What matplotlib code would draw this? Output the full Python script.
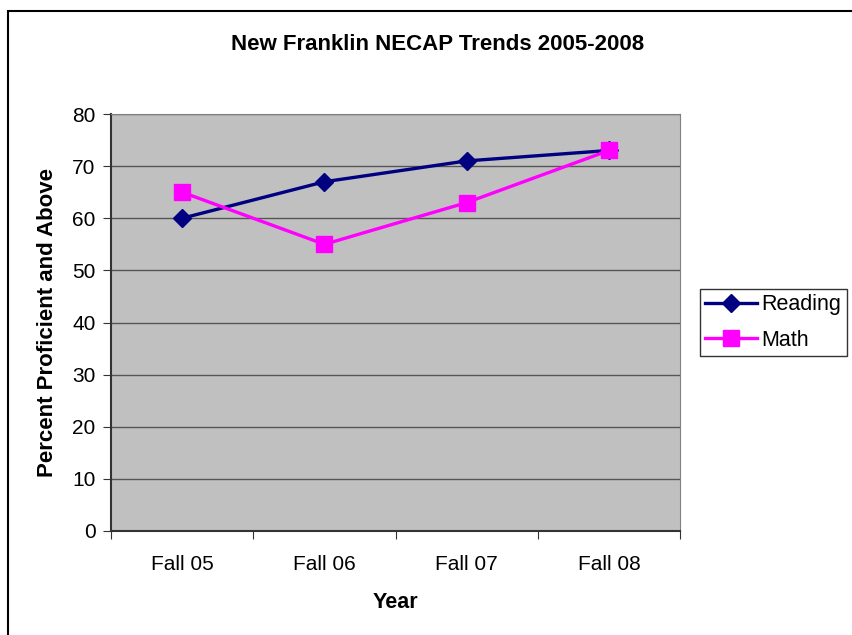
import matplotlib
matplotlib.use("Agg")
import matplotlib.pyplot as plt
import numpy as np

plt.rcParams['font.family'] = ['Liberation Sans', 'DejaVu Sans']

years = ["Fall 05", "Fall 06", "Fall 07", "Fall 08"]
reading = [60, 67, 71, 73]
math_scores = [65, 55, 63, 73]

W, H = 852, 635
fig = plt.figure(figsize=(W / 100, H / 100), dpi=100)
ax = fig.add_axes([111 / W, 1 - 531 / H, 569 / W, 417 / H])
ax.set_facecolor('#c0c0c0')

x = np.arange(len(years)) + 0.5
ax.plot(x, reading, color='#000080', lw=2.4, marker='D', ms=9, label='Reading', zorder=3)
ax.plot(x, math_scores, color='#ff00ff', lw=2.4, marker='s', ms=11, label='Math', zorder=3)

ax.set_xlim(0, 4)
ax.set_ylim(0, 80)
ax.set_yticks(range(0, 81, 10))
ax.yaxis.grid(True, color='#555555', lw=1)
ax.set_axisbelow(True)

ax.set_xticks(range(0, 5))
ax.set_xticklabels([])
ax.set_xticks(x, minor=True)
ax.set_xticklabels(years, minor=True)
ax.tick_params(axis='x', which='minor', length=0, pad=17.5, labelsize=15)
ax.tick_params(axis='x', which='major', length=6, direction='out', color='#333333')
ax.tick_params(axis='y', length=6, direction='out', labelsize=15, color='#333333', pad=5)

for s in ['top', 'right']:
    ax.spines[s].set_color('#808080')
for s in ['left', 'bottom']:
    ax.spines[s].set_color('#333333')
    ax.spines[s].set_linewidth(1.5)

ax.set_xlabel("Year", fontsize=15.5, fontweight='bold', labelpad=12.5)
ax.set_ylabel("Percent Proficient and Above", fontsize=16, fontweight='bold', labelpad=10.5)
fig.text(0.5 * (228 + 647) / W, 1 - 45 / H, "New Franklin NECAP Trends 2005-2008",
         ha='center', va='center', fontsize=16, fontweight='bold')

leg = fig.legend(loc='upper left', bbox_to_anchor=(700 / W, 1 - 289 / H), fontsize=15.5,
                 frameon=True, fancybox=False, edgecolor='black', handlelength=2.4,
                 borderpad=0.25, labelspacing=0.68, handletextpad=0.2, borderaxespad=0)
leg.get_frame().set_linewidth(1)

fig.patches.append(plt.Rectangle((8 / W, -0.1), 1.2, 1.1 - 10.5 / H, transform=fig.transFigure,
                                 fill=False, edgecolor='black', lw=1.5))

fig.savefig("out.png", dpi=100)
